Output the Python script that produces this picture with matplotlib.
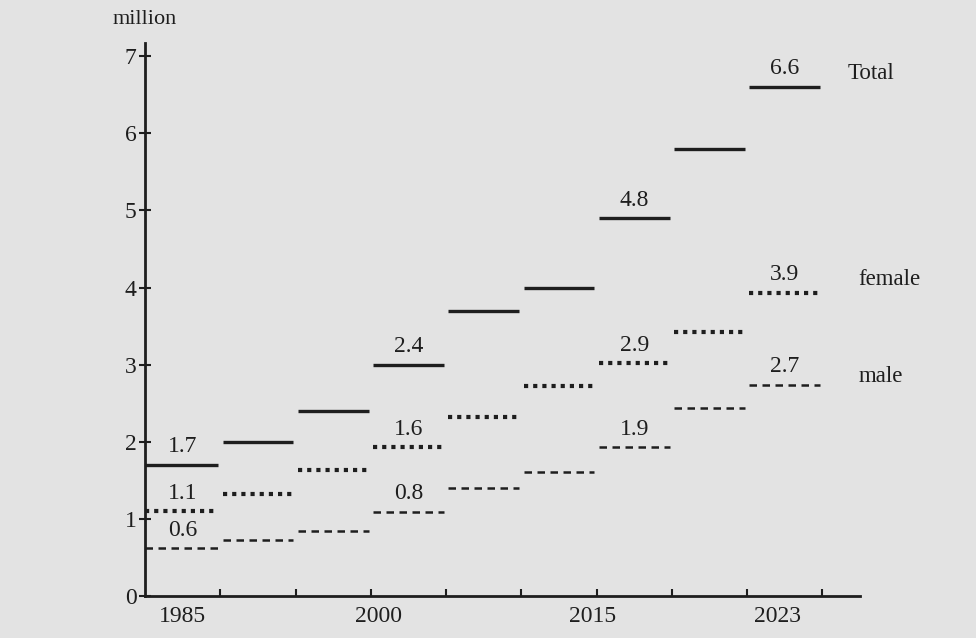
import matplotlib.pyplot as plt
import numpy as np

# one value per 5-year period
periods = np.arange(9)
total = [1.7, 2.0, 2.4, 3.0, 3.7, 4.0, 4.9, 5.8, 6.6]
female = [1.1, 1.32, 1.63, 1.93, 2.32, 2.72, 3.02, 3.42, 3.93]
male = [0.62, 0.73, 0.84, 1.09, 1.4, 1.61, 1.93, 2.44, 2.74]

# printed figures and the period they sit over
total_notes = {0: '1.7', 3: '2.4', 6: '4.8', 8: '6.6'}
female_notes = {0: '1.1', 3: '1.6', 6: '2.9', 8: '3.9'}
male_notes = {0: '0.6', 3: '0.8', 6: '1.9', 8: '2.7'}

year_labels = ['1985', '2000', '2015', '2023']
year_pos = [0.5, 3.1, 5.95, 8.4]

plt.rcParams['font.family'] = ['Liberation Serif', 'DejaVu Serif']
ink = '#1e1e1e'
paper = '#e3e3e3'

fig = plt.figure(figsize=(9.76, 6.38), dpi=100, facecolor=paper)
ax = fig.add_axes([0.1486, 0.0658, 0.7326, 0.8668], facecolor=paper)

x0 = periods + 0.03
x1 = periods + 0.97
x0[0] = 0.0

ax.hlines(total, x0, x1, colors=ink, linewidth=2.4)
ax.hlines(female, x0, x1, colors=ink, linewidth=3.0, linestyles=(0, (1.0, 1.2)))
ax.hlines(male, x0, x1, colors=ink, linewidth=1.8, linestyles=(0, (3.0, 2.2)))

for series, notes in [(total, total_notes), (female, female_notes), (male, male_notes)]:
    for i, txt in notes.items():
        ax.annotate(txt, (periods[i] + 0.5, series[i]),
                    xycoords='data', textcoords='offset points',
                    xytext=(0, 13), ha='center', va='center',
                    fontsize=17, color=ink)

# series names at the right end
for name, series, dx, dy in [('Total', total, 1.33, 0.18),
                             ('female', female, 1.48, 0.17),
                             ('male', male, 1.48, 0.1)]:
    ax.text(periods[-1] + dx, series[-1] + dy, name, ha='left', va='center',
            fontsize=16.5, color=ink)

ax.set_xlim(0, 9.5)
ax.set_ylim(0, 7.17)

for side in ['top', 'right']:
    ax.spines[side].set_visible(False)
for side in ['left', 'bottom']:
    ax.spines[side].set_linewidth(2.0)
    ax.spines[side].set_color(ink)

ax.set_yticks(range(8))
ax.tick_params(axis='y', direction='inout', length=8, width=1.5, colors=ink,
               labelsize=17, pad=2)
ax.set_xticks(range(1, 10))
ax.set_xticklabels([])
ax.tick_params(axis='x', which='major', direction='in', length=5, width=1.5, colors=ink)
ax.set_xticks(year_pos, year_labels, minor=True)
ax.tick_params(axis='x', which='minor', length=0, labelsize=17, pad=7, labelcolor=ink)

ax.annotate('million', (0, 1), xycoords='axes fraction', textcoords='offset points',
            xytext=(0, 17), ha='center', va='center', fontsize=16, color=ink,
            annotation_clip=False)

plt.savefig('out.png', dpi=100, facecolor=paper)
